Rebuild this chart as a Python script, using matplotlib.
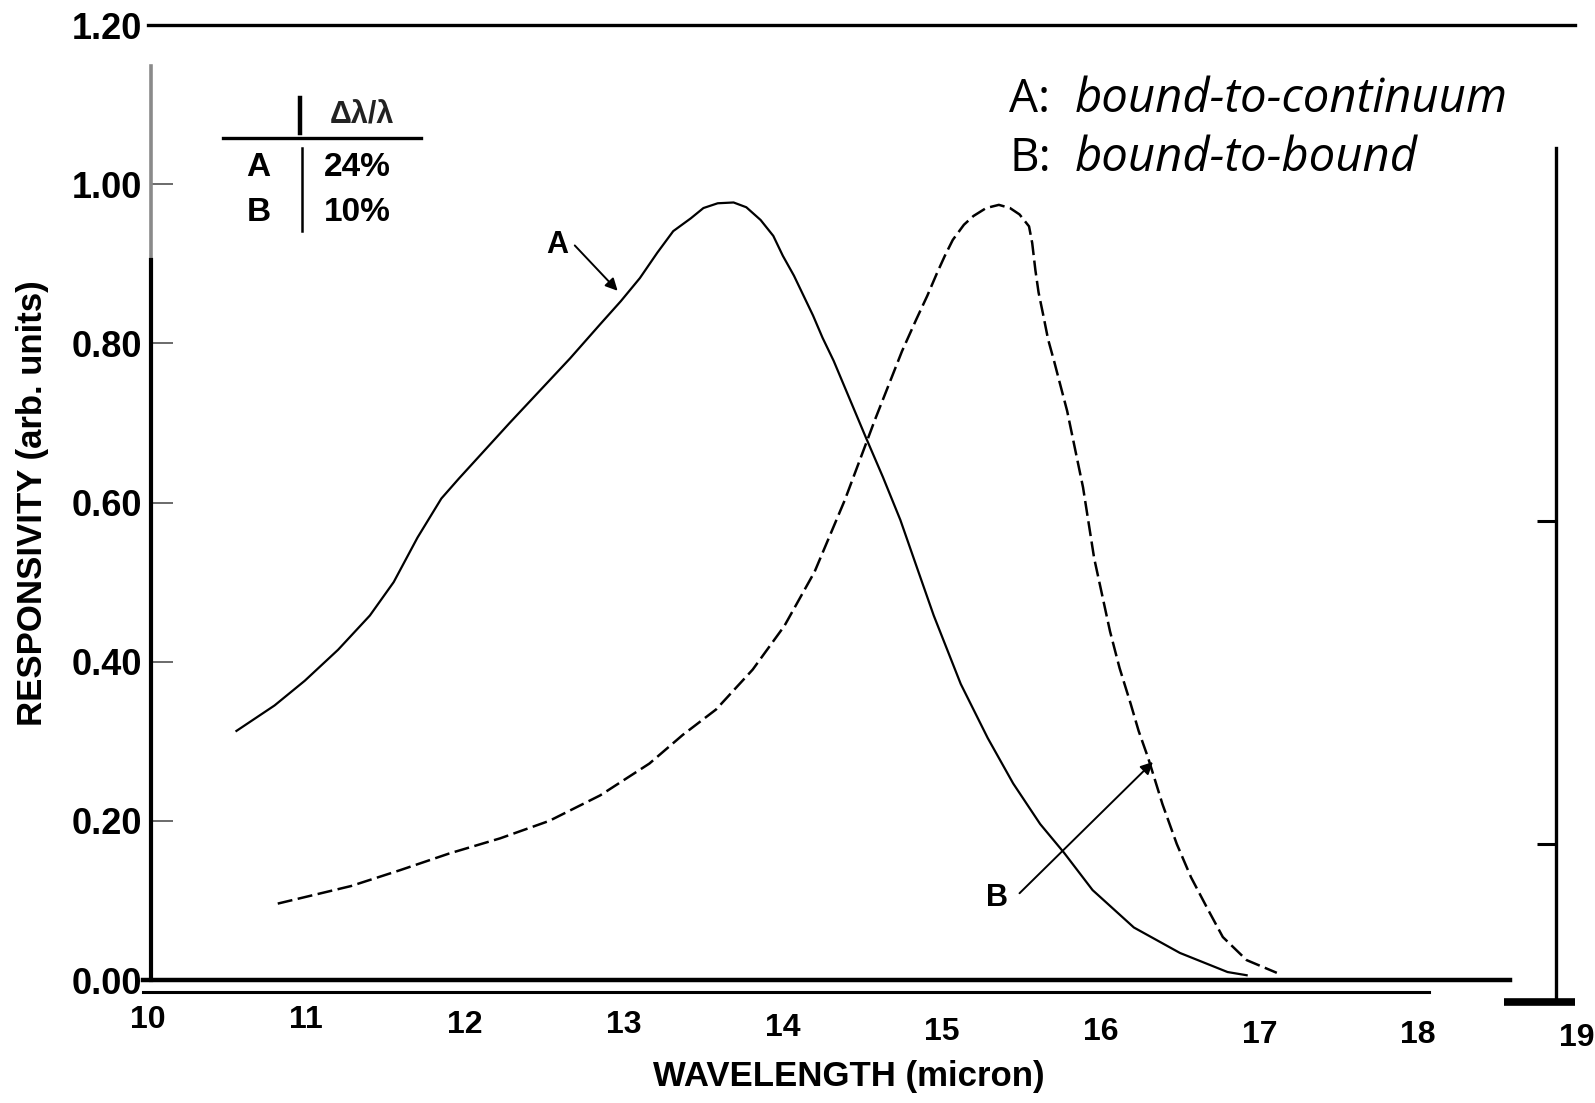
import matplotlib
matplotlib.use("Agg")
import matplotlib.pyplot as plt
from matplotlib.transforms import ScaledTranslation

# ---------------------------------------------------------------
# Data
# ---------------------------------------------------------------
# curve A: bound-to-continuum (solid line)
a_wl = [10.56, 10.80, 10.99, 11.20, 11.40, 11.55, 11.70, 11.85, 11.96, 12.28,
        12.66, 12.85, 12.98, 13.10, 13.21, 13.31, 13.42, 13.50, 13.59, 13.69,
        13.77, 13.86, 13.94, 14.00, 14.07, 14.13, 14.19, 14.25, 14.32, 14.52,
        14.63, 14.74, 14.85, 14.95, 15.12, 15.29, 15.45, 15.62, 15.77, 15.95,
        16.21, 16.50, 16.80, 16.92]
a_resp = [0.313, 0.345, 0.376, 0.415, 0.458, 0.500, 0.556, 0.605, 0.630, 0.700,
          0.781, 0.824, 0.853, 0.882, 0.914, 0.941, 0.957, 0.970, 0.976, 0.977,
          0.971, 0.955, 0.935, 0.910, 0.885, 0.860, 0.835, 0.807, 0.778, 0.683,
          0.632, 0.578, 0.515, 0.458, 0.372, 0.304, 0.247, 0.196, 0.160, 0.113,
          0.066, 0.034, 0.010, 0.006]

# curve B: bound-to-bound (dashed line)
b_wl = [10.82, 11.28, 11.59, 11.90, 12.22, 12.53, 12.85, 13.16, 13.37, 13.58,
        13.81, 14.01, 14.20, 14.39, 14.58, 14.75, 14.84, 14.91, 14.97, 15.02,
        15.07, 15.14, 15.20, 15.28, 15.36, 15.43, 15.49, 15.55, 15.57, 15.59,
        15.61, 15.64, 15.67, 15.71, 15.74, 15.79, 15.89, 15.96, 16.01, 16.06,
        16.12, 16.19, 16.24, 16.30, 16.39, 16.48, 16.57, 16.67, 16.77, 16.92,
        17.11]
b_resp = [0.096, 0.118, 0.138, 0.159, 0.178, 0.200, 0.232, 0.272, 0.308, 0.340,
          0.390, 0.445, 0.513, 0.603, 0.704, 0.790, 0.830, 0.860, 0.888, 0.910,
          0.930, 0.949, 0.960, 0.970, 0.974, 0.970, 0.962, 0.947, 0.926, 0.892,
          0.864, 0.835, 0.805, 0.776, 0.753, 0.715, 0.619, 0.530, 0.484, 0.438,
          0.392, 0.347, 0.313, 0.279, 0.221, 0.171, 0.129, 0.091, 0.054, 0.025,
          0.009]

x_ticks = [10, 11, 12, 13, 14, 15, 16, 17, 18, 19]
x_tick_labels = ['10', '11', '12', '13', '14', '15', '16', '17', '18', '19']
y_ticks = [0.0, 0.2, 0.4, 0.6, 0.8, 1.0, 1.2]
y_tick_labels = ['0.00', '0.20', '0.40', '0.60', '0.80', '1.00', '1.20']

table_rows = ['A', 'B']
table_widths = ['24%', '10%']
legend_keys = ['A:', 'B:']
legend_names = ['bound-to-continuum', 'bound-to-bound']

plt.rcParams['font.family'] = ['Liberation Sans', 'DejaVu Sans']

fig = plt.figure(figsize=(15.95, 11.03), dpi=100)
ax = fig.add_axes([0.09248, 0.11151, 0.89624, 0.86582])
ax.set_xlim(10, 19)
ax.set_ylim(0, 1.2)

# curves
ax.plot(a_wl, a_resp, color='black', lw=1.6, solid_joinstyle='round')
ax.plot(b_wl, b_resp, color='black', lw=1.8, linestyle=(0, (6, 2.2)))

# ---------------------------------------------------------------
# axes frame, mimicking the scanned figure
# ---------------------------------------------------------------
ax.spines['top'].set_linewidth(2.4)
ax.spines['top'].set_bounds(10.0, 18.99)
ax.spines['left'].set_position(('data', 10.02))
ax.spines['left'].set_linewidth(3.0)
ax.spines['left'].set_bounds(0, 0.905)
ax.spines['bottom'].set_linewidth(3.2)
ax.spines['bottom'].set_bounds(9.97, 18.58)
ax.spines['right'].set_position(('data', 18.87))
ax.spines['right'].set_linewidth(2.4)
ax.spines['right'].set_bounds(-0.028, 1.046)

ax.plot([10.02, 10.02], [0.905, 1.148], color='#8a8a8a', lw=2.6, clip_on=False)
ax.plot([9.97, 18.07], [-0.015, -0.015], color='black', lw=2.2, clip_on=False)
ax.plot([18.54, 18.99], [-0.028, -0.028], color='black', lw=5.5,
        solid_capstyle='butt', clip_on=False)

ax.set_yticks(y_ticks)
ax.set_yticklabels(y_tick_labels)
ax.tick_params(axis='y', direction='in', length=16, width=1.4, color='#6a6a6a',
               pad=6, labelsize=26, right=False)
ax.set_xticks(x_ticks, x_tick_labels)
ax.tick_params(axis='x', direction='in', length=0, pad=18, labelsize=23)
for lab in ax.get_xticklabels() + ax.get_yticklabels():
    lab.set_fontweight('bold')
# the scanned tick labels sag towards the right
sag_px = [0, 0, 5, 5, 8, 12, 12, 15, 15, 18]
for lab, dy in zip(ax.get_xticklabels(), sag_px):
    lab.set_transform(lab.get_transform() + ScaledTranslation(0, -dy / 100, fig.dpi_scale_trans))
ax.set_xlim(10, 19)

# stray ticks on the right frame line
rax = ax.twinx()
rax.set_ylim(0, 1.2)
for side in ['top', 'bottom', 'left', 'right']:
    rax.spines[side].set_visible(False)
rax.set_yticks([0.171, 0.577])
rax.set_yticklabels([])
rax.yaxis.set_ticks_position('right')
rax.tick_params(axis='y', direction='in', length=14, width=2.2, color='black')
rax.spines['right'].set_position(('data', 18.87))

ax.set_xlabel('WAVELENGTH (micron)', fontsize=25, fontweight='bold')
ax.xaxis.set_label_coords(0.4907, -0.084)
ax.set_ylabel('RESPONSIVITY (arb. units)', fontsize=25, fontweight='bold')
ax.yaxis.set_label_coords(-0.069, 0.4995)

# ---------------------------------------------------------------
# small table top-left
# ---------------------------------------------------------------
ax.plot([10.96, 10.96], [1.064, 1.108], color='black', lw=3.2)
ax.text(11.35, 1.086, 'Δλ/λ', fontsize=22, ha='center', va='center',
        fontweight='bold', color='#222222')
ax.plot([10.475, 11.72], [1.058, 1.058], color='black', lw=2.4)
ax.plot([10.973, 10.973], [0.941, 1.045], color='black', lw=1.8)
row_y = [1.021, 0.965]
for name, width, yy in zip(table_rows, table_widths, row_y):
    ax.text(10.70, yy, name, fontsize=24, fontweight='bold', ha='center', va='center')
    ax.text(11.32, yy, width, fontsize=24, fontweight='bold', ha='center', va='center')

# ---------------------------------------------------------------
# legend text top-right
# ---------------------------------------------------------------
leg_y = [1.091, 1.016]
for key, name, yy in zip(legend_keys, legend_names, leg_y):
    ax.text(15.425, yy, key, fontsize=33, family='Open Sans', va='baseline', ha='left')
    ax.text(15.84, yy, name, fontsize=34, family='Open Sans', style='italic',
            va='baseline', ha='left')

# curve labels with arrows
ax.text(12.58, 0.924, 'A', fontsize=22, fontweight='bold', ha='center', va='center')
ax.annotate('', xy=(12.96, 0.866), xytext=(12.69, 0.923),
            arrowprops=dict(arrowstyle='-|>', color='black', lw=1.4,
                            mutation_scale=18, shrinkA=0, shrinkB=0))
ax.text(15.35, 0.103, 'B', fontsize=22, fontweight='bold', ha='center', va='center')
ax.annotate('', xy=(16.33, 0.274), xytext=(15.49, 0.109),
            arrowprops=dict(arrowstyle='-|>', color='black', lw=1.4,
                            mutation_scale=18, shrinkA=0, shrinkB=0))

fig.savefig('out.png', dpi=100)
